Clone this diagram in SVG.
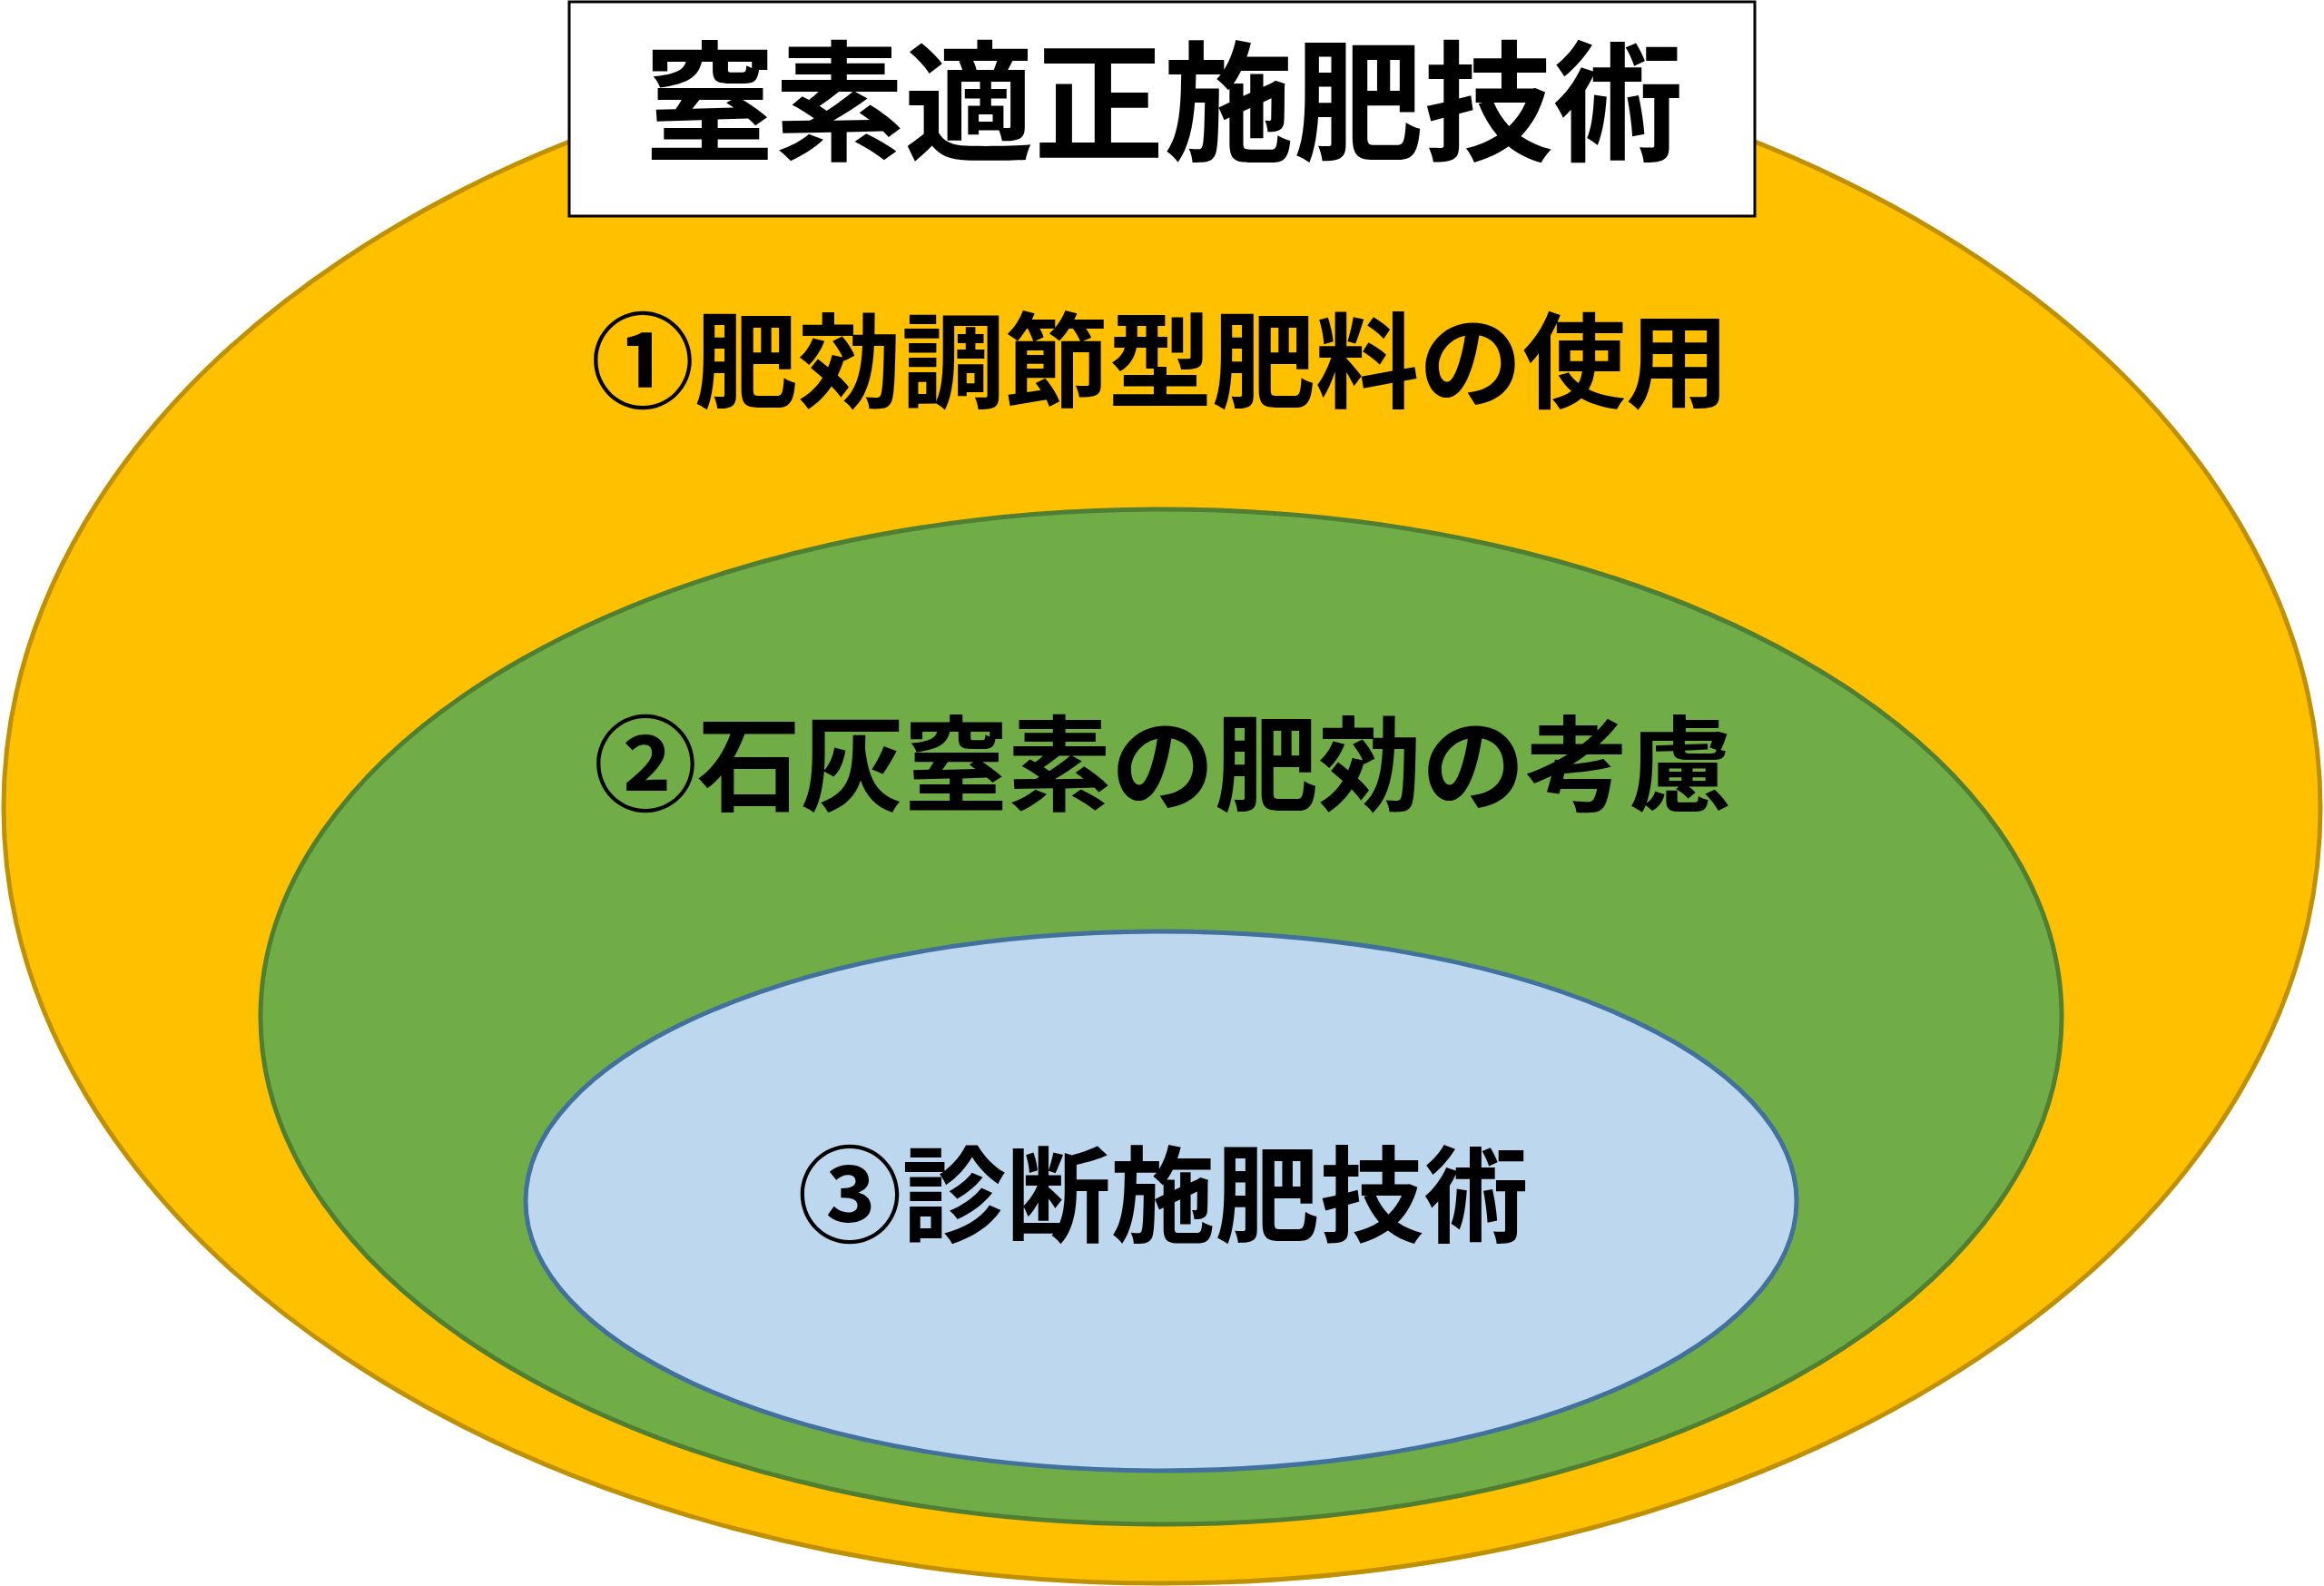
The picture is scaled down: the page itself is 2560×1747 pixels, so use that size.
<svg xmlns="http://www.w3.org/2000/svg" width="2560" height="1747" viewBox="0 0 2560 1747">
<style>
.t{font-family:"Noto Sans CJK JP","Noto Sans CJK SC",sans-serif;font-weight:700;fill:#000;text-anchor:middle;dominant-baseline:central}
</style>
<rect width="2560" height="1747" fill="#fff"/>
<g id="outer">
<ellipse cx="1280" cy="890" rx="1276" ry="854" fill="#FFC000" stroke="#BF9000" stroke-width="5"/>
<text class="t" x="1278" y="390" font-size="114">①肥効調節型肥料の使用</text>
</g>
<g id="middle">
<ellipse cx="1279" cy="1120" rx="992" ry="559" fill="#70AD47" stroke="#507E32" stroke-width="5"/>
<text class="t" x="1281" y="834" font-size="114">②石灰窒素の肥効の考慮</text>
</g>
<g id="inner">
<ellipse cx="1279" cy="1323" rx="700" ry="297" fill="#BDD7EE" stroke="#41719C" stroke-width="5"/>
<text class="t" x="1281" y="1309" font-size="115">③診断施肥技術</text>
</g>
<g id="title">
<rect x="627" y="2" width="1306" height="236" fill="#fff" stroke="#000" stroke-width="3"/>
<text class="t" x="1282" y="103" font-size="143">窒素適正施肥技術</text>
</g>
<g id="connectors"></g>
</svg>
